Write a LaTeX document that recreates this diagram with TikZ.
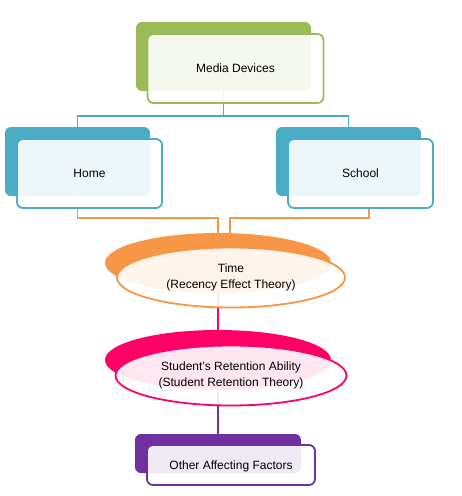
\documentclass[tikz,border=0pt]{standalone}
\usepackage{fontspec}
\setmainfont{Liberation Sans}
\usetikzlibrary{shapes.geometric,calc}
\definecolor{cgreen}{HTML}{9BBB59}
\definecolor{cblue}{HTML}{4BACC6}
\definecolor{corange}{HTML}{F79646}
\definecolor{cpink}{HTML}{FF0066}
\definecolor{cpurple}{HTML}{7030A0}
\tikzset{
  backbox/.style={rectangle, rounded corners=6pt, fill=#1, draw=none, inner sep=0pt},
  frontbox/.style={rectangle, rounded corners=6pt, draw=#1, line width=1.8pt, fill=white, fill opacity=0.9, text opacity=1, inner sep=0pt, font=\fontsize{12}{16}\selectfont, align=center},
  backell/.style={ellipse, fill=#1, draw=none, inner sep=0pt},
  frontell/.style={ellipse, draw=#1, line width=1.8pt, fill=white, fill opacity=0.9, text opacity=1, inner sep=0pt, font=\fontsize{12}{16}\selectfont, align=center},
  conn/.style={draw=#1, line width=1.7pt}
}
\begin{document}
\begin{tikzpicture}[x=1pt,y=-1pt]
\useasboundingbox (0,0) rectangle (462,496);
% back shapes
\node[backbox=cgreen, minimum width=175pt, minimum height=69pt] (mb) at (223.5,56.5) {};
\node[backbox=cblue, minimum width=145pt, minimum height=69pt] (hb) at (77.5,161.5) {};
\node[backbox=cblue, minimum width=145pt, minimum height=69pt] (sb) at (348.5,161.5) {};
\node[backell=corange, minimum width=226pt, minimum height=60pt] (tb) at (218,263) {};
\node[backell=cpink, minimum width=226pt, minimum height=60pt] (rb) at (218,360) {};
\node[backbox=cpurple, minimum width=166pt, minimum height=39pt] (ob) at (218,453.5) {};
% connectors
\coordinate (bj) at (223.5,116);
\draw[conn=cblue] (mb.south) -- (bj) -| (hb.north);
\draw[conn=cblue] (bj) -| (sb.north);
\coordinate (oj1) at (218,218);
\coordinate (oj2) at (230,218);
\coordinate (sd) at (369,209);
\draw[conn=corange] (hb.south) |- (oj1) -- (tb.north);
\draw[conn=corange] (sd) |- (oj2) -- ($(tb.north)+(12,0)$);
\draw[conn=cpink] (tb.south) -- (rb.north);
\draw[conn=cpurple] (rb.south) -- (ob.north);
% front shapes
\node[frontbox=cgreen, minimum width=176pt, minimum height=69pt] (mf) at (235.5,68.5) {Media Devices};
\node[frontbox=cblue, minimum width=145pt, minimum height=69pt] (hf) at (89.5,173.5) {Home};
\node[frontbox=cblue, minimum width=145pt, minimum height=69pt] (sf) at (360.5,173.5) {School};
\node[frontell=corange, minimum width=228pt, minimum height=60pt] (tf) at (231,277.5) {Time\\(Recency Effect Theory)};
\node[frontell=cpink, minimum width=231pt, minimum height=60pt] (rf) at (231,375.5) {Student's Retention Ability\\(Student Retention Theory)};
\node[frontbox=cpurple, minimum width=168pt, minimum height=40pt, text depth=0pt] (of) at (231,465) {Other Affecting Factors};
\end{tikzpicture}
\end{document}
